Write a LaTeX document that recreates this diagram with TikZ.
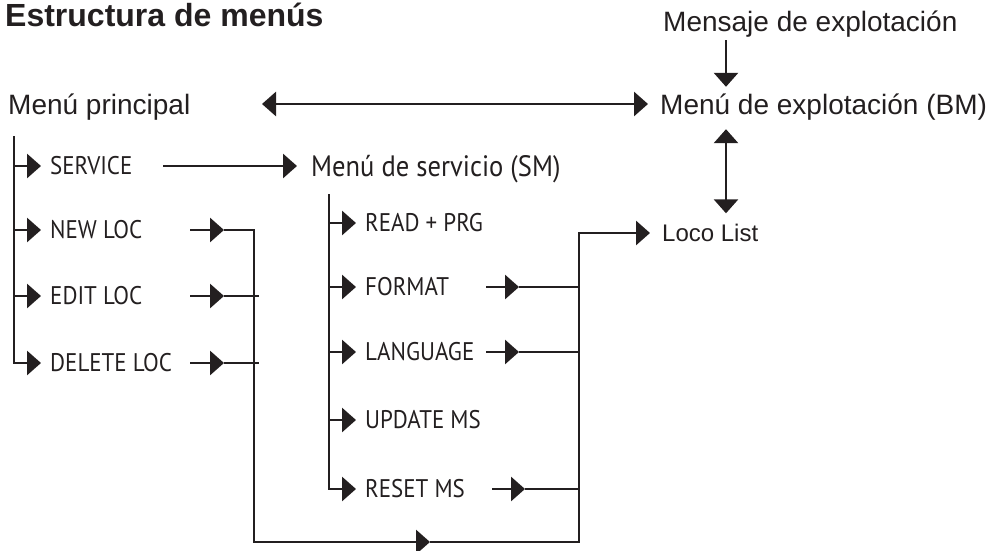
\documentclass[tikz,border=0pt]{standalone}
\usepackage{fontspec}
\setmainfont{Liberation Sans}
\newfontfamily\myr[FakeStretch=0.9]{PT Sans}
\usetikzlibrary{arrows.meta}
\definecolor{ink}{RGB}{35,31,32}
\begin{document}
\begin{tikzpicture}[x=1pt,y=-1pt,
  ln/.style={line width=2.9pt, draw=ink, line cap=butt},
  tip/.tip={Triangle[length=14pt 0 0,width=24pt 0 0]},
  arr/.style={ln, -tip},
  darr/.style={ln, tip-tip},
  item/.style={anchor=west, inner xsep=9pt, inner ysep=0pt, text=ink,
    font=\myr\fontsize{25.5}{27}\selectfont, text height=17pt, text depth=0pt},
  big/.style={anchor=west, inner xsep=0pt, inner ysep=0pt, text=ink,
    font=\fontsize{28}{30}\selectfont, text height=20pt, text depth=0pt},
]
\useasboundingbox (0,0) rectangle (999,551);

% title
\node[anchor=base west, inner sep=0pt, text=ink, font=\bfseries\fontsize{32}{34}\selectfont] (title) at (5,27) {Estructura de menús};

% top labels
\node[big] (MP) at (8,104) {Menú principal};
\node[big, inner xsep=12pt, inner ysep=7pt] (BM) at (648,104) {Menú de explotación (BM)};
\node[big, inner ysep=8pt] (MSG) at (663,22) {Mensaje de explotación};
\node[big, inner xsep=12pt, inner ysep=11pt, font=\fontsize{24}{26}\selectfont, text height=17pt] (LL) at (650,233) {Loco List};

\coordinate (hl) at (262,104);
\coordinate (vx) at (726,0);
\draw[darr] (hl) -- (BM.west);
\draw[arr] (MSG.south -| vx) -- (BM.north -| vx);
\draw[darr] ([yshift=-8pt]BM.south -| vx) -- (LL.north -| vx);

% main menu items
\node[item] (i1) at (41,166) {SERVICE};
\node[item] (i2) at (41,230) {NEW LOC};
\node[item] (i3) at (41,296) {EDIT LOC};
\node[item] (i4) at (41,363) {DELETE LOC};
\coordinate (L0) at (14,136);
\draw[arr] (L0) |- (i4.west);
\foreach \n in {i1,i2,i3} \draw[arr] (\n.west -| L0) -- (\n.west);

% service menu
\node[item, inner xsep=14pt, font=\myr\fontsize{29.5}{31}\selectfont, text height=20pt] (SM) at (297,166) {Menú de servicio (SM)};
\coordinate (s0) at (163,166);
\draw[arr] (s0) -- (SM.west);

\node[item] (r1) at (356,223) {READ + PRG};
\node[item] (r2) at (356,287) {FORMAT};
\node[item] (r3) at (356,352) {LANGUAGE};
\node[item] (r4) at (356,420) {UPDATE MS};
\node[item] (r5) at (356,489) {RESET MS};
\coordinate (S0) at (329,194);
\draw[arr] (S0) |- (r5.west);
\foreach \n in {r1,r2,r3,r4} \draw[arr] (\n.west -| S0) -- (\n.west);

% feed lines
\coordinate (fa) at (190,0);
\coordinate (ft) at (224,0);
\coordinate (fv) at (254,0);
\coordinate (fe) at (259,0);
\coordinate (bL) at (254,542);
\coordinate (bM) at (430,542);
\coordinate (bR) at (579,542);
\coordinate (ga) at (486,0);
\coordinate (gt) at (519,0);
\coordinate (ha) at (492,0);
\coordinate (ht) at (525,0);

\draw[arr] (i2.west -| fa) -- (i2.west -| ft);
\draw[arr] (i2.west -| ft) -- (i2.west -| fv) -- (bL) -- (bM);
\draw[arr] (bM) -- (bR) -- (bR |- LL.west) -- (LL.west);
\foreach \n in {i3,i4} {
  \draw[arr] (\n.west -| fa) -- (\n.west -| ft);
  \draw[ln] (\n.west -| ft) -- (\n.west -| fe);
}
\foreach \n in {r2,r3} {
  \draw[arr] (\n.west -| ga) -- (\n.west -| gt);
  \draw[ln] (\n.west -| gt) -- (\n.west -| bR);
}
\draw[arr] (r5.west -| ha) -- (r5.west -| ht);
\draw[ln] (r5.west -| ht) -- (r5.west -| bR);
\end{tikzpicture}
\end{document}
